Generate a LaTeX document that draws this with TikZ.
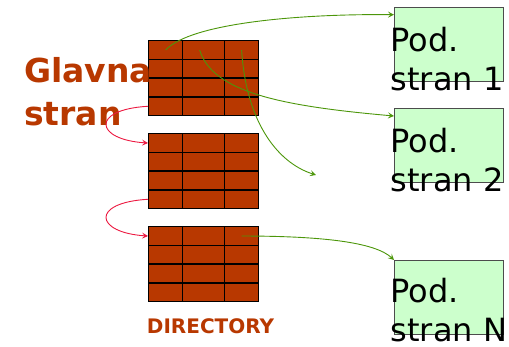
\documentclass[tikz,border=0pt]{standalone}
\usepackage{fontspec}
\setmainfont{DejaVu Sans}
\usetikzlibrary{arrows.meta}
\definecolor{brick}{RGB}{184,56,0}
\definecolor{pagegreen}{RGB}{204,255,204}
\definecolor{linkgreen}{RGB}{76,150,10}
\definecolor{linkred}{RGB}{236,24,64}

\begin{document}
\begin{tikzpicture}[x=1pt,y=1pt]
  \tikzstyle{cell}=[rectangle,draw=black,fill=brick,line width=1.3pt,inner sep=0,anchor=north west,minimum height=18.75pt]
  \tikzstyle{page}=[rectangle,draw=black!70,fill=pagegreen,line width=0.9pt,minimum width=109pt,minimum height=74.5pt,anchor=north west,inner sep=0]
  \tikzstyle{pagetext}=[anchor=base west,align=left,inner sep=0,font=\fontsize{32}{38.5}\selectfont]
  \tikzstyle{label}=[anchor=base west,align=left,inner sep=0,text=brick]
  \tikzstyle{link}=[linkgreen,line width=0.9pt,-{Stealth[length=6pt,width=6pt,inset=2.5pt]}]
  \tikzstyle{chain}=[linkred,line width=0.9pt,-{Stealth[length=6pt,width=6pt,inset=2.5pt]}]
  \useasboundingbox (0,0) rectangle (509,347);

  % three directory blocks, 4 rows x 3 columns each
  \foreach \b/\yy in {1/307,2/214,3/121}
    \foreach \r in {1,...,4}
      \foreach \c/\x/\w in {1/148/34,2/182/42,3/224/34}
        \node[cell,minimum width=\w pt] (d\b-\r-\c) at (\x,{\yy-(\r-1)*18.75}) {};

  \node[page] (pod1) at (394,340.3) {};
  \node[page] (pod2) at (394,239) {};
  \node[page] (podn) at (394,87) {};
  % base anchor sits on the last line
  \node[pagetext] (pod1txt) at (390.5,256.8) {Pod.\\stran 1};
  \node[pagetext] (pod2txt) at (390.5,155.5) {Pod.\\stran 2};
  \node[pagetext] (podntxt) at (390.5,5.5) {Pod.\\stran N};

  \node[label,font=\bfseries\fontsize{33}{43}\selectfont] (glavna) at (24,221) {Glavna\\stran};
  \node[label,font=\bfseries\fontsize{20}{24}\selectfont] (dirlabel) at (146.7,13.7) {DIRECTORY};

  \coordinate (stray) at (316,172);

  \draw[link] (d1-1-1.center) .. controls +(25,27) and +(-94,1) .. ([yshift=-8pt]pod1.north west);
  \draw[link] ([xshift=-4pt]d1-1-2.center) .. controls +(13,-42) and +(-114,10) .. ([yshift=-8pt]pod2.north west);
  \draw[link] (d1-1-3.center) .. controls +(4,-68) and +(-41,13) .. (stray);
  \draw[link] (d3-1-3.center) .. controls +(79,0) and +(-19,18) .. (podn.north west);

  \draw[chain] (d1-4-1.west) .. controls +(-58,-3.4) and +(-53,3.4) .. (d2-1-1.west);
  \draw[chain] (d2-4-1.west) .. controls +(-58,-3.4) and +(-53,3.4) .. (d3-1-1.west);
\end{tikzpicture}
\end{document}
